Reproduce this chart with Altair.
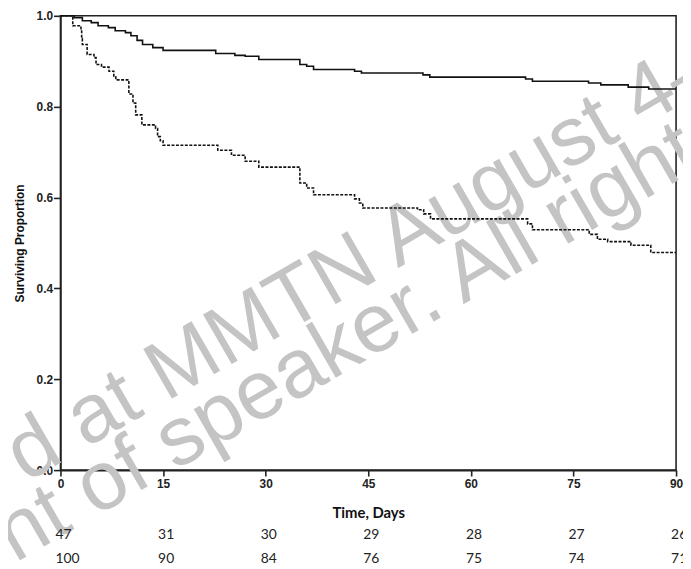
import altair as alt
import pandas as pd

# Kaplan-Meier step data
times_solid = [0, 2.0, 3.2, 4.5, 5.5, 7.0, 8.0, 9.5, 10.3, 11.2, 12.0, 13.5, 15.0, 22.7, 25.5, 27.0,
               29.0, 35.0, 36.0, 37.0, 43.0, 44.0, 53.0, 54.0, 68.0, 69.0, 77.2, 79.0, 83.0, 86.0, 90]
surv_solid = [1.0, 0.996, 0.989, 0.985, 0.978, 0.974, 0.967, 0.963, 0.956, 0.946, 0.937, 0.930, 0.924,
              0.917, 0.913, 0.911, 0.904, 0.893, 0.889, 0.882, 0.878, 0.874, 0.870, 0.865, 0.861, 0.856,
              0.852, 0.848, 0.843, 0.839, 0.839]

times_dashed = [0, 1.8, 3.0, 3.1, 3.2, 3.9, 4.9, 5.2, 6.0, 7.1, 7.8, 8.1, 10.0, 10.6, 11.0, 11.9,
                13.9, 14.2, 14.6, 15.0, 23.0, 25.0, 27.0, 29.0, 35.0, 36.0, 37.0, 43.0, 43.7, 44.2,
                52.2, 53.1, 54.1, 68.3, 69.0, 77.3, 78.5, 80.0, 83.4, 86.3, 90]
surv_dashed = [1.0, 0.978, 0.970, 0.950, 0.937, 0.915, 0.908, 0.893, 0.887, 0.878, 0.865, 0.859,
               0.828, 0.808, 0.782, 0.760, 0.752, 0.734, 0.725, 0.715, 0.704, 0.693, 0.680, 0.667,
               0.632, 0.621, 0.606, 0.597, 0.588, 0.577, 0.573, 0.564, 0.553, 0.542, 0.529, 0.519,
               0.508, 0.503, 0.495, 0.479, 0.479]

# numbers at risk
risk_times = [0, 15, 30, 45, 60, 75, 90]
risk_row1 = [47, 31, 30, 29, 28, 27, 26]
risk_row2 = [100, 90, 84, 76, 75, 74, 71]

x_ticks = [0, 15, 30, 45, 60, 75, 90]
y_ticks = [0.0, 0.2, 0.4, 0.6, 0.8, 1.0]

watermark_lines = ["d at MMTN August 4\u2013", "nt of speaker. All right"]

curves = pd.DataFrame(
    [{"t": t, "s": s, "g": "solid"} for t, s in zip(times_solid, surv_solid)]
    + [{"t": t, "s": s, "g": "dashed"} for t, s in zip(times_dashed, surv_dashed)]
)
risk1 = pd.DataFrame({"t": risk_times, "n": [str(v) for v in risk_row1]})
risk2 = pd.DataFrame({"t": risk_times, "n": [str(v) for v in risk_row2]})
wm1 = pd.DataFrame({"txt": [watermark_lines[0]]})
wm2 = pd.DataFrame({"txt": [watermark_lines[1]]})

xscale = alt.Scale(domain=[0, 90], nice=False, zero=False)
yscale = alt.Scale(domain=[0, 1], nice=False)

wm_style = dict(font="Liberation Sans", fontSize=84, color="#c4c4c4", angle=330,
                align="left", baseline="alphabetic")
w1 = alt.Chart(wm1).mark_text(**wm_style).encode(
    x=alt.value(-35), y=alt.value(472), text="txt:N")
w2 = alt.Chart(wm2).mark_text(**wm_style).encode(
    x=alt.value(-46), y=alt.value(553), text="txt:N")

lines = alt.Chart(curves).mark_line(interpolate="step-after", strokeWidth=1.6, color="#111").encode(
    x=alt.X("t:Q", scale=xscale,
            axis=alt.Axis(values=x_ticks, title="Time, Days", tickSize=6, labelPadding=3,
                          titlePadding=16, titleFont="Lato", titleFontSize=15,
                          titleFontWeight="bold", labelFlush=False)),
    y=alt.Y("s:Q", scale=yscale,
            axis=alt.Axis(values=y_ticks, format=".1f", title="Surviving Proportion", tickSize=7,
                          labelPadding=1, titlePadding=10, titleFont="Liberation Sans",
                          titleFontSize=12, titleFontWeight="bold", labelFlush=False)),
    strokeDash=alt.StrokeDash("g:N", scale=alt.Scale(domain=["solid", "dashed"],
                                                     range=[[1, 0], [3, 1.5]]), legend=None),
    detail="g:N",
)

r_style = dict(font="Lato", fontSize=14, color="#222", align="left", baseline="middle", dx=-5)
r1 = alt.Chart(risk1).mark_text(**r_style).encode(x=alt.X("t:Q", scale=xscale), y=alt.value(525), text="n:N")
r2 = alt.Chart(risk2).mark_text(**r_style).encode(x=alt.X("t:Q", scale=xscale), y=alt.value(549), text="n:N")

chart = alt.layer(w1, w2, lines, r1, r2).properties(
    width=622, height=459,
    autosize=alt.AutoSizeParams(type="none"),
    padding={"left": 53, "top": 5, "right": 7, "bottom": 96},
).configure_view(stroke="#222", strokeWidth=1.6).configure_axis(
    domainColor="#222", domainWidth=1.6, tickColor="#222", tickWidth=1.6,
    labelFont="Liberation Sans", labelFontSize=12, labelFontWeight="bold", labelColor="#222",
    titleColor="#111", grid=False,
)

chart.save("out.html", embed_options={"renderer": "svg", "actions": False})
